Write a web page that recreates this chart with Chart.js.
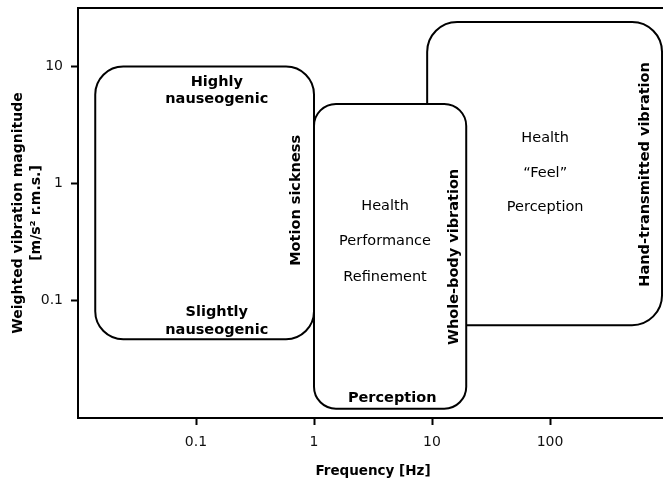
<!DOCTYPE html>
<html>
<head>
<meta charset="utf-8">
<script src="https://cdn.jsdelivr.net/npm/chart.js@4"></script>
<style>
html,body{margin:0;padding:0;overflow:hidden;background:#fff;}
#wrap{position:relative;width:672px;height:486px;}
</style>
</head>
<body>
<div id="wrap"><canvas id="chart"></canvas></div>
<script>
// axis ranges and ticks
const xRange = [0.01, 1000];
const yRange = [0.01, 31.62];
const xTicks = [0.1, 1, 10, 100];
const yTicks = [0.1, 1, 10];
const xTitle = "Frequency [Hz]";
const yTitle = ["Weighted vibration magnitude", "[m/s\u00b2 r.m.s.]"];

// regions: frequency range, magnitude range (drawing order = stacking)
const boxNames = ["Motion sickness", "Hand-transmitted vibration", "Whole-body vibration"];
const boxFreqLow = [0.014, 9.1, 1.0];
const boxFreqHigh = [1.0, 890, 19.5];
const boxMagLow = [0.047, 0.062, 0.012];
const boxMagHigh = [10, 24, 4.8];
const boxRadius = [28, 30, 22];

// annotations: text lines, anchor in data units
const labelLines = [
  ["Highly", "nauseogenic"],
  ["Slightly", "nauseogenic"],
  ["Motion sickness"],
  ["Health", "Performance", "Refinement"],
  ["Whole-body vibration"],
  ["Perception"],
  ["Health", "\u201cFeel\u201d", "Perception"],
  ["Hand-transmitted vibration"]
];
const labelX = [0.15, 0.15, 0.71, 4.0, 15.5, 4.6, 91, 645];
const labelY = [6.2, 0.067, 0.72, 0.32, 0.237, 0.0148, 1.23, 1.2];
const labelBold = [true, true, true, false, true, true, false, true];
const labelVertical = [false, false, true, false, true, false, false, true];
const labelGap = [17, 18, 0, 35.5, 0, 0, 34.5, 0];

const FONT = "'DejaVu Sans', Verdana, sans-serif";

const boxesPlugin = {
  id: "boxes",
  beforeDatasetsDraw(chart){
    const {ctx, chartArea, scales} = chart;
    const xs = scales.x, ys = scales.y;
    ctx.save();
    ctx.beginPath();
    ctx.rect(chartArea.left, chartArea.top, chartArea.right - chartArea.left, chartArea.bottom - chartArea.top);
    ctx.clip();
    for(let i = 0; i < boxNames.length; i++){
      const x0 = xs.getPixelForValue(boxFreqLow[i]);
      const x1 = xs.getPixelForValue(boxFreqHigh[i]);
      const y0 = ys.getPixelForValue(boxMagHigh[i]);
      const y1 = ys.getPixelForValue(boxMagLow[i]);
      ctx.beginPath();
      ctx.roundRect(x0, y0, x1 - x0, y1 - y0, boxRadius[i]);
      ctx.fillStyle = "#fff";
      ctx.fill();
      ctx.lineWidth = 2;
      ctx.strokeStyle = "#000";
      ctx.stroke();
    }
    ctx.restore();
  },
  afterDatasetsDraw(chart){
    const {ctx, chartArea, scales} = chart;
    ctx.save();
    ctx.fillStyle = "#000";
    ctx.textAlign = "center";
    ctx.textBaseline = "middle";
    for(let i = 0; i < labelLines.length; i++){
      const px = scales.x.getPixelForValue(labelX[i]);
      const py = scales.y.getPixelForValue(labelY[i]);
      ctx.font = (labelBold[i] ? "bold " : "") + "14.5px " + FONT;
      const lines = labelLines[i];
      ctx.save();
      ctx.translate(px, py);
      if(labelVertical[i]) ctx.rotate(-Math.PI/2);
      const start = -(lines.length - 1) * labelGap[i] / 2;
      lines.forEach((t, k) => ctx.fillText(t, 0, start + k * labelGap[i]));
      ctx.restore();
    }
    // frame
    ctx.lineWidth = 2;
    ctx.strokeStyle = "#000";
    ctx.strokeRect(chartArea.left, chartArea.top, chartArea.right - chartArea.left, chartArea.bottom - chartArea.top);
    ctx.restore();
  }
};

new Chart(document.getElementById("chart"), {
  type: "scatter",
  data: {datasets: []},
  plugins: [boxesPlugin],
  options: {
    responsive: true,
    maintainAspectRatio: false,
    animation: false,
    layout: {padding: {top: 8, right: 4, bottom: 0, left: 0}},
    plugins: {legend: {display: false}, tooltip: {enabled: false}},
    scales: {
      x: {
        type: "logarithmic",
        min: xRange[0],
        max: xRange[1],
        afterBuildTicks: s => { s.ticks = xTicks.map(v => ({value: v})); },
        afterFit: s => { s.height = 68; s.paddingLeft = 0; s.paddingRight = 0; },
        border: {display: false},
        grid: {drawOnChartArea: false, drawTicks: true, tickLength: 7, tickWidth: 2, tickColor: "#000"},
        ticks: {
          color: "#111", padding: 9, maxRotation: 0, autoSkip: false,
          font: {family: FONT, size: 14},
          callback: v => String(v)
        },
        title: {display: true, text: xTitle, color: "#000", padding: {top: 0, bottom: 6},
          font: {family: FONT, size: 13.5, weight: "bold"}}
      },
      y: {
        type: "logarithmic",
        min: yRange[0],
        max: yRange[1],
        afterBuildTicks: s => { s.ticks = yTicks.map(v => ({value: v})); },
        afterFit: s => { s.width = 78; s.paddingTop = 0; s.paddingBottom = 0; },
        border: {display: false},
        grid: {drawOnChartArea: false, drawTicks: true, tickLength: 7, tickWidth: 2, tickColor: "#000"},
        ticks: {
          color: "#111", padding: 8, autoSkip: false,
          font: {family: FONT, size: 14},
          callback: v => String(v)
        },
        title: {display: true, text: yTitle, color: "#000", padding: {top: 9, bottom: 0},
          font: {family: FONT, size: 14, weight: "bold", lineHeight: 1.3}}
      }
    }
  }
});
</script>
</body>
</html>
